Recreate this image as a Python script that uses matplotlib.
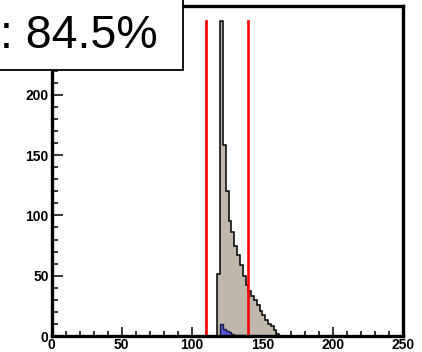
import numpy as np
import matplotlib
matplotlib.use("Agg")
import matplotlib.pyplot as plt
from matplotlib.patches import Rectangle
from matplotlib.ticker import MultipleLocator, FixedLocator

plt.rcParams['font.family'] = ['Liberation Sans', 'DejaVu Sans']

# histogram, 2-unit bins starting at 118
bin_width = 2
first_edge = 118
all_counts = [51, 261, 158, 120, 95, 86, 75, 67, 59, 50, 42,
              37, 33, 30, 26, 21, 17, 13, 10, 8, 5, 2]
# subset (blue), starting at 120
sub_first_edge = 120
sub_counts = [10, 6, 4, 3, 2, 1, 1, 1, 1, 1]

cut_lo = 110
cut_hi = 140
label_text = ": 84.5%"

x_max = 250
y_max = 1.05 * max(all_counts)
x_major = [0, 50, 100, 150, 200, 250]
y_major = [0, 50, 100, 150, 200]   # 250 sits under the box

W, H = 422, 352
fig = plt.figure(figsize=(W / 100, H / 100), dpi=100)
ax = fig.add_axes([51.5 / W, 1 - 336 / H, (403 - 51.5) / W, (336 - 5.5) / H])

edges = first_edge + bin_width * np.arange(len(all_counts) + 1)
ax.stairs(all_counts, edges, fill=True, facecolor='#c0b7ad', edgecolor='none', zorder=2)
ax.stairs(all_counts, edges, fill=False, color='black', lw=1.1, baseline=0, zorder=3)

sub_edges = sub_first_edge + bin_width * np.arange(len(sub_counts) + 1)
ax.stairs(sub_counts, sub_edges, fill=True, facecolor='#5555dd', edgecolor='none', zorder=4)
ax.stairs(sub_counts, sub_edges, fill=False, color='#1a1a40', lw=1.0, baseline=0, zorder=5)

for xc in (cut_lo, cut_hi):
    ax.plot([xc, xc], [0, max(all_counts)], color='red', lw=1.9, zorder=6)

ax.set_xlim(0, x_max)
ax.set_ylim(0, y_max)

ax.xaxis.set_major_locator(FixedLocator(x_major))
ax.xaxis.set_minor_locator(MultipleLocator(10))
ax.yaxis.set_major_locator(FixedLocator(y_major))
ax.yaxis.set_minor_locator(MultipleLocator(10))

ax.tick_params(axis='x', which='major', direction='in', length=6.5, width=1.1, pad=1.5)
ax.tick_params(axis='x', which='minor', direction='in', length=3.5, width=1.1)
ax.tick_params(axis='y', which='major', direction='in', length=8, width=1.1, pad=2)
ax.tick_params(axis='y', which='minor', direction='in', length=4.3, width=1.1)
for lab in ax.get_xticklabels() + ax.get_yticklabels():
    lab.set_fontweight('bold')
    lab.set_fontsize(10)

for sp in ax.spines.values():
    sp.set_linewidth(2.4)
    sp.set_zorder(7)

# statistics box, clipped off the top-left edge
box = Rectangle((-0.02, 1 - 70 / H), 183 / W + 0.02, 70 / H + 0.02,
                transform=fig.transFigure, facecolor='white', edgecolor='black',
                lw=1.3, zorder=10)
fig.add_artist(box)
fig.text(158 / W, 1 - 48 / H, label_text, ha='right', va='baseline',
         fontsize=33.5, zorder=11)

fig.savefig("out.png", dpi=100)
